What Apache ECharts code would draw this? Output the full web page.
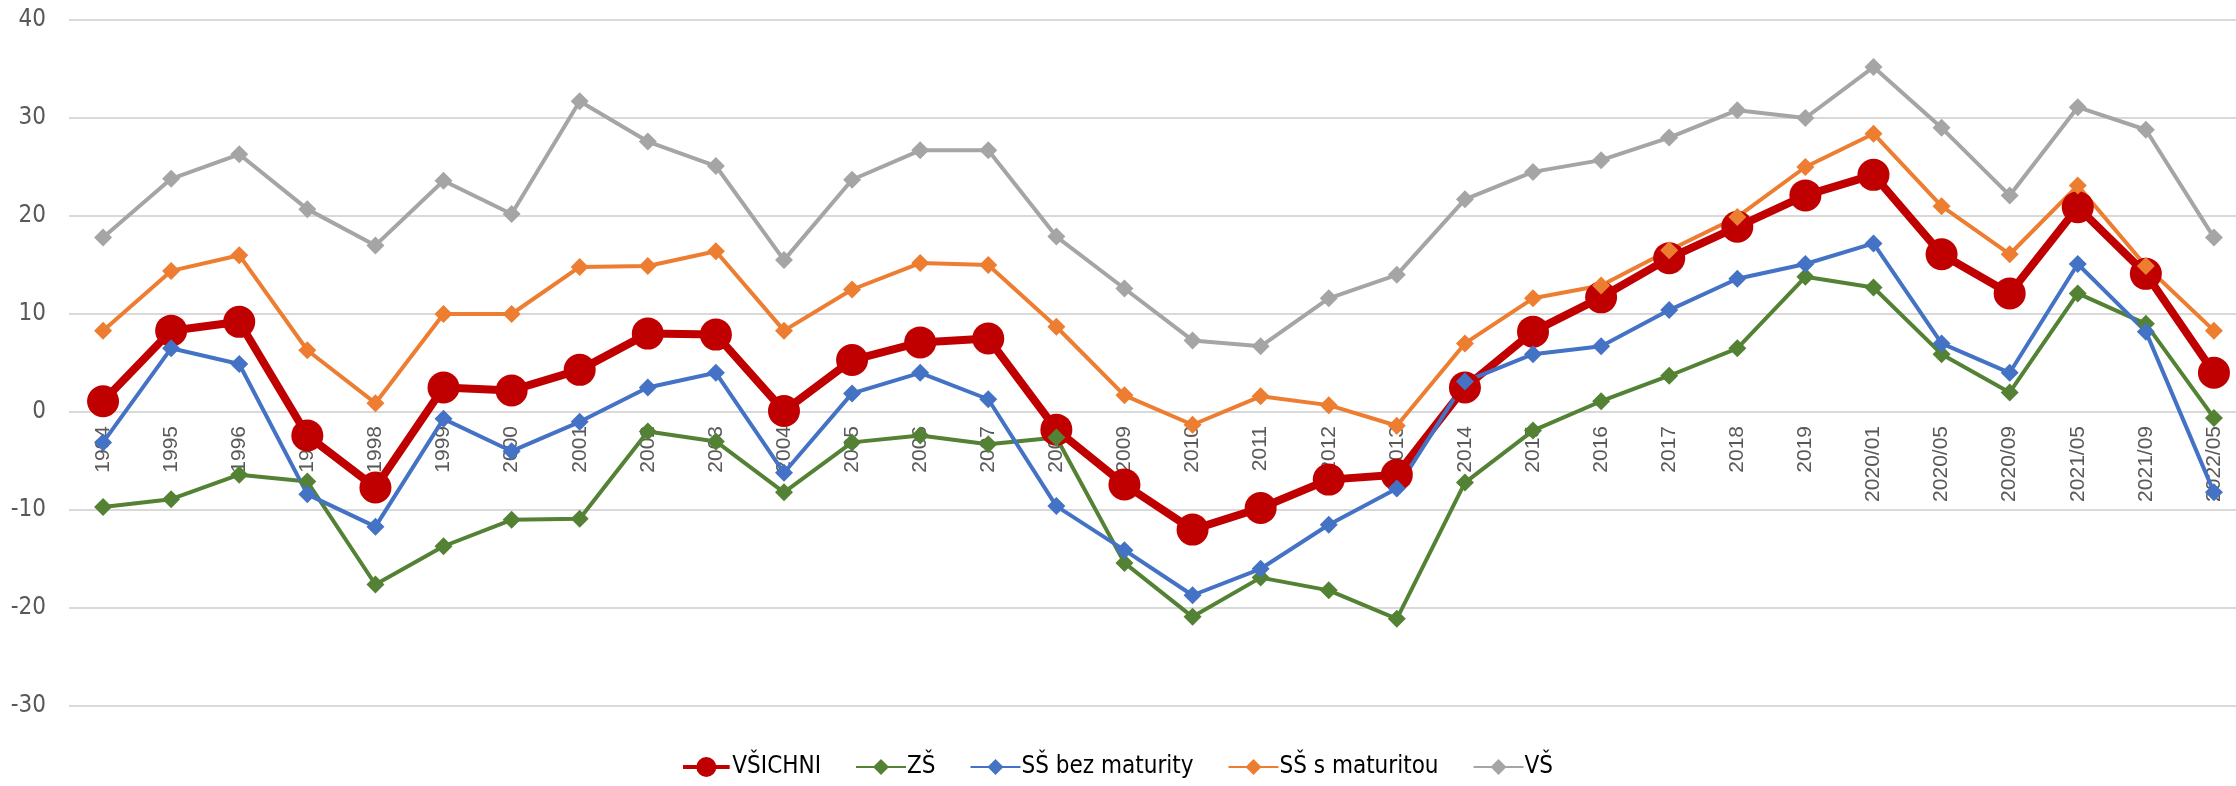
<!DOCTYPE html>
<html>
<head>
<meta charset="utf-8">
<title>Vývoj podle vzdělání</title>
<script src="https://cdn.jsdelivr.net/npm/echarts@6/dist/echarts.min.js"></script>
<style>
  html, body { margin: 0; padding: 0; background: #ffffff; }
  #chart { width: 2236px; height: 786px; }
</style>
</head>
<body>
<div id="chart"></div>
<script>
// Categories: yearly until 2019, then survey waves
const categories = [
  '1994', '1995', '1996', '1997', '1998', '1999', '2000', '2001', '2002', '2003',
  '2004', '2005', '2006', '2007', '2008', '2009', '2010', '2011', '2012', '2013',
  '2014', '2015', '2016', '2017', '2018', '2019',
  '2020/01', '2020/05', '2020/09', '2021/05', '2021/09', '2022/05'
];

const vsichni = [1.1, 8.3, 9.2, -2.4, -7.7, 2.5, 2.2, 4.3, 8.0, 7.9, 0.1, 5.3, 7.1, 7.5, -1.8, -7.4, -12.0, -9.8, -6.9, -6.4, 2.5, 8.2, 11.7, 15.7, 18.9, 22.1, 24.2, 16.1, 12.1, 20.9, 14.1, 4.0];
const zs = [-9.7, -8.9, -6.4, -7.1, -17.6, -13.7, -11.0, -10.9, -2.0, -3.0, -8.2, -3.1, -2.4, -3.3, -2.6, -15.4, -20.9, -16.9, -18.2, -21.1, -7.2, -1.9, 1.1, 3.7, 6.5, 13.8, 12.7, 5.9, 2.0, 12.1, 9.0, -0.6];
const ssBezMaturity = [-3.1, 6.5, 4.9, -8.4, -11.7, -0.7, -4.0, -1.0, 2.5, 4.0, -6.2, 1.9, 4.0, 1.3, -9.6, -14.1, -18.7, -16.0, -11.5, -7.8, 3.1, 5.9, 6.7, 10.4, 13.6, 15.1, 17.2, 7.0, 4.0, 15.1, 8.2, -8.2];
const ssSMaturitou = [8.3, 14.4, 16.0, 6.3, 0.9, 10.0, 10.0, 14.8, 14.9, 16.4, 8.3, 12.5, 15.2, 15.0, 8.7, 1.7, -1.3, 1.6, 0.7, -1.4, 7.0, 11.6, 12.9, 16.5, 19.9, 25.0, 28.4, 21.0, 16.1, 23.1, 14.9, 8.3];
const vs = [17.8, 23.8, 26.3, 20.7, 17.0, 23.6, 20.2, 31.7, 27.6, 25.1, 15.5, 23.7, 26.7, 26.7, 17.9, 12.6, 7.3, 6.7, 11.6, 14.0, 21.7, 24.5, 25.7, 28.0, 30.8, 30.0, 35.2, 29.0, 22.1, 31.1, 28.8, 17.8];

const seriesNames = ['VŠICHNI', 'ZŠ', 'SŠ bez maturity', 'SŠ s maturitou', 'VŠ'];

// Value axis range
const yMin = -30;
const yMax = 40;
const yStep = 10;

const labelColor = '#595959';
const gridColor = '#D9D9D9';
const narrowFont = '"Liberation Sans Narrow", "Arial Narrow", "DejaVu Sans Condensed", "Liberation Sans", sans-serif';
const sansFont = '"Liberation Sans", Arial, "DejaVu Sans", sans-serif';

// Plot box
const gridTop = 20;
const gridBottom = 80;
const chartHeight = 786;

// Legend icon for the bold series: thick line with a large dot
const boldIcon = 'path://M0,9.5L56,9.5L56,14.5L0,14.5Z M16,12A12,12 0 1,1 40,12A12,12 0 1,1 16,12Z';

function thinSeries(name, data, color) {
  return {
    name: name,
    type: 'line',
    zlevel: 1,
    data: data,
    symbol: 'diamond',
    symbolSize: 18,
    itemStyle: { color: color },
    lineStyle: { color: color, width: 4 },
    emphasis: { disabled: true }
  };
}

const chart = echarts.init(document.getElementById('chart'), null, { renderer: 'canvas' });

// Category labels sit on the zero line of the value axis
const plotHeight = chartHeight - gridTop - gridBottom;
const zeroFromBottom = plotHeight * (0 - yMin) / (yMax - yMin);

chart.setOption({
  animation: false,
  backgroundColor: '#ffffff',
  grid: {
    left: 69,
    top: gridTop,
    width: 2179,
    bottom: gridBottom,
    containLabel: false,
    outerBoundsMode: 'none'
  },
  legend: {
    bottom: 2,
    left: 'center',
    itemWidth: 50,
    itemHeight: 20,
    itemGap: 34,
    textStyle: {
      fontFamily: narrowFont,
      fontSize: 24,
      color: '#000000',
      padding: [0, 0, 0, -4]
    },
    data: [
      { name: seriesNames[0], icon: boldIcon },
      seriesNames[1], seriesNames[2], seriesNames[3], seriesNames[4]
    ]
  },
  xAxis: {
    type: 'category',
    data: categories,
    boundaryGap: true,
    position: 'bottom',
    offset: -zeroFromBottom,
    axisLine: { show: false, onZero: false },
    axisTick: { show: false },
    splitLine: { show: false },
    axisLabel: {
      rotate: 90,
      interval: 0,
      margin: 14,
      color: labelColor,
      fontFamily: sansFont,
      fontSize: 21
    }
  },
  yAxis: {
    type: 'value',
    min: yMin,
    max: yMax,
    interval: yStep,
    axisLine: { show: false },
    axisTick: { show: false },
    axisLabel: {
      margin: 23,
      color: labelColor,
      fontFamily: narrowFont,
      fontSize: 24
    },
    splitLine: { lineStyle: { color: gridColor, width: 2 } }
  },
  series: [
    {
      name: seriesNames[0],
      type: 'line',
      zlevel: 1,
      data: vsichni,
      symbol: 'circle',
      symbolSize: 32,
      itemStyle: { color: '#C00000' },
      lineStyle: { color: '#C00000', width: 8 },
      emphasis: { disabled: true }
    },
    thinSeries(seriesNames[1], zs, '#548235'),
    thinSeries(seriesNames[2], ssBezMaturity, '#4472C4'),
    thinSeries(seriesNames[3], ssSMaturitou, '#ED7D31'),
    thinSeries(seriesNames[4], vs, '#A5A5A5')
  ]
});
</script>
</body>
</html>
